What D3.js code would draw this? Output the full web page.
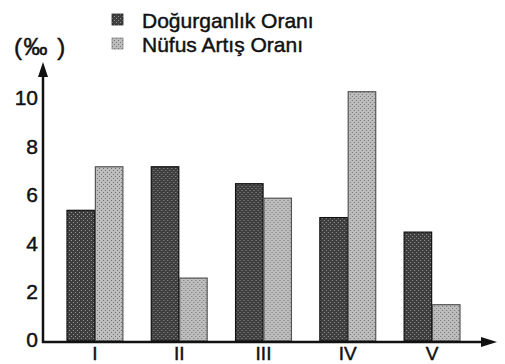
<!DOCTYPE html>
<html>
<head>
<meta charset="utf-8">
<script src="https://cdn.jsdelivr.net/npm/d3@7"></script>
<style>
  html, body { margin: 0; padding: 0; background: #fff; }
  svg { display: block; font-family: "Liberation Sans", Arial, Helvetica, sans-serif; }
</style>
</head>
<body>
<svg id="chart" width="505" height="364"></svg>
<script>
// Regions and their rates (per mille)
const categories = ["I", "II", "III", "IV", "V"];
const seriesNames = ["Doğurganlık Oranı", "Nüfus Artış Oranı"];
const birthRate = [5.4, 7.2, 6.5, 5.1, 4.5];
const growthRate = [7.2, 2.6, 5.9, 10.3, 1.5];
const yTicks = [0, 2, 4, 6, 8, 10];
const unitLabel = "(‰ )";

const seriesValues = [birthRate, growthRate];
const fills = ["#3e3e3e", "#bdbdbd"];
const strokes = ["#111", "#555"];

const svg = d3.select("#chart");

// Halftone-like textures for the two series
const defs = svg.append("defs");
function texture(id, base, dot, dotOpacity) {
  const p = defs.append("pattern")
    .attr("id", id).attr("width", 4).attr("height", 4)
    .attr("patternUnits", "userSpaceOnUse");
  p.append("rect").attr("width", 4).attr("height", 4).attr("fill", base);
  p.append("rect").attr("x", 0).attr("y", 0).attr("width", 1).attr("height", 1)
    .attr("fill", dot).attr("opacity", dotOpacity);
  p.append("rect").attr("x", 2).attr("y", 2).attr("width", 1).attr("height", 1)
    .attr("fill", dot).attr("opacity", dotOpacity);
}
texture("tex0", fills[0], "#bbb", 0.7);
texture("tex1", fills[1], "#444", 0.6);
const fillRefs = ["url(#tex0)", "url(#tex1)"];

const axisX = 43, axisY = 342;
const ink = "#111";

const x = d3.scaleBand()
  .domain(categories)
  .range([67, 460])
  .paddingInner(0.337)
  .paddingOuter(0);

const xInner = d3.scaleBand()
  .domain(d3.range(seriesNames.length))
  .range([0, x.bandwidth()])
  .paddingInner(0.03);

const y = d3.scaleLinear()
  .domain([0, 10])
  .range([341, 99]);

// Bars
const groups = svg.append("g").selectAll("g")
  .data(categories)
  .join("g")
  .attr("transform", d => `translate(${x(d)},0)`);

groups.selectAll("rect")
  .data((d, i) => seriesValues.map((vals, s) => ({ s, v: vals[i] })))
  .join("rect")
  .attr("x", d => xInner(d.s))
  .attr("width", xInner.bandwidth())
  .attr("y", d => y(d.v))
  .attr("height", d => y(0) - y(d.v))
  .attr("fill", d => fillRefs[d.s])
  .attr("stroke", d => strokes[d.s])
  .attr("stroke-width", 1.2);

// Slightly heavier text, like printed type
function heavy(sel) {
  sel.attr("fill", ink).attr("stroke", ink).attr("stroke-width", 0.45)
     .attr("font-family", "Liberation Sans, Arial, sans-serif");
}

// Y axis labels
const yAxis = d3.axisLeft(y).tickValues(yTicks).tickSize(0).tickPadding(0).tickFormat(d3.format("d"));
const gy = svg.append("g")
  .attr("transform", `translate(${axisX - 5},0)`)
  .call(yAxis);
gy.select(".domain").remove();
gy.selectAll("text")
  .attr("font-size", 21)
  .attr("dy", "0.28em")
  .call(heavy);

// X axis labels
const xAxis = d3.axisBottom(x).tickSize(0).tickPadding(0);
const gx = svg.append("g")
  .attr("transform", `translate(0,${axisY + 4})`)
  .call(xAxis);
gx.select(".domain").remove();
gx.selectAll("text")
  .attr("font-size", 19)
  .attr("dy", "0.71em")
  .call(heavy);

// Axis lines with arrowheads
const axes = svg.append("g").attr("stroke", ink).attr("fill", ink);
axes.append("line")
  .attr("x1", axisX).attr("y1", axisY + 1)
  .attr("x2", axisX).attr("y2", 72)
  .attr("stroke-width", 2.5);
axes.append("path")
  .attr("d", `M${axisX},62 L${axisX - 5},77 L${axisX + 5},77 Z`)
  .attr("stroke", "none");
axes.append("line")
  .attr("x1", axisX - 1).attr("y1", axisY)
  .attr("x2", 485).attr("y2", axisY)
  .attr("stroke-width", 2.5);
axes.append("path")
  .attr("d", `M497,${axisY} L481,${axisY - 5} L481,${axisY + 5} Z`)
  .attr("stroke", "none");

// Unit label
svg.append("text")
  .attr("x", 14).attr("y", 55)
  .attr("font-size", 24)
  .attr("letter-spacing", 1.5)
  .text(unitLabel)
  .call(heavy);

// Legend
const legend = svg.append("g").attr("transform", "translate(112,14)");
const items = legend.selectAll("g")
  .data(seriesNames)
  .join("g")
  .attr("transform", (d, i) => `translate(0,${i * 24})`);
items.append("rect")
  .attr("width", 11).attr("height", 11)
  .attr("fill", (d, i) => fillRefs[i])
  .attr("stroke", (d, i) => i === 0 ? "#222" : "#888")
  .attr("stroke-width", 0.8);
items.append("text")
  .attr("x", 30).attr("y", 14)
  .attr("font-size", 21)
  .text(d => d)
  .call(heavy);
</script>
</body>
</html>
